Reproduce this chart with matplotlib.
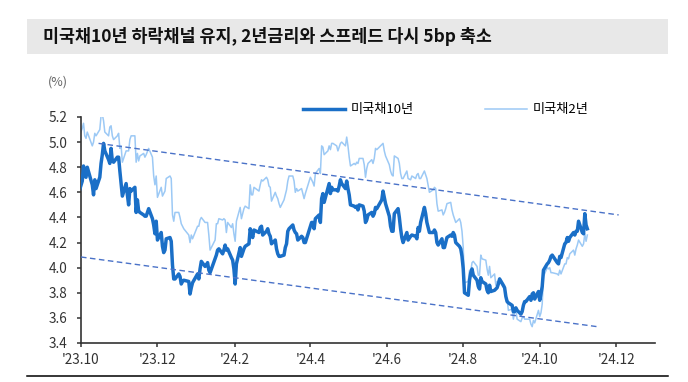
import matplotlib
matplotlib.use("Agg")
import matplotlib.pyplot as plt
import numpy as np
import pandas as pd
from matplotlib.patches import Rectangle
from matplotlib.lines import Line2D

plt.rcParams['font.family'] = ['Noto Sans CJK KR', 'DejaVu Sans']

# ---------- data (business days from 2023-09-29, one row per week Mon..Fri, nan = holiday) ----------
nan = np.nan
ust10y = [
    4.59,
    4.69, 4.81, 4.73, 4.72, 4.80,
    nan, 4.66, 4.58, 4.70, 4.63,
    4.72, 4.83, 4.90, 4.99, 4.93,
    4.86, 4.83, 4.95, 4.85, 4.84,
    4.88, 4.88, 4.77, 4.67, 4.57,
    4.67, 4.58, 4.50, 4.63, 4.61,
    4.64, 4.44, 4.54, 4.45, 4.44,
    4.42, 4.41, 4.41, nan, 4.47,
    4.39, 4.34, 4.27, 4.37, 4.22,
    4.28, 4.17, 4.12, 4.14, 4.23,
    4.24, 4.21, 4.02, 3.91, 3.91,
    3.95, 3.93, 3.87, 3.89, 3.90,
    nan, 3.89, 3.79, 3.84, 3.88,
    nan, 3.95, 3.91, 3.99, 4.05,
    4.01, 4.02, 4.04, 3.98, 3.96,
    nan, 4.07, 4.10, 4.14, 4.15,
    4.11, 4.14, 4.18, 4.14, 4.15,
    4.08, 4.06, 3.99, 3.87, 4.03,
    4.16, 4.09, 4.12, 4.15, 4.17,
    4.19, 4.31, 4.27, 4.24, 4.30,
    nan, 4.28, 4.32, 4.33, 4.26,
    4.29, 4.31, 4.27, 4.25, 4.19,
    4.22, 4.15, 4.11, 4.09, 4.09,
    4.10, 4.16, 4.19, 4.29, 4.31,
    4.34, 4.30, 4.28, 4.27, 4.22,
    4.25, 4.24, 4.20, 4.20, nan,
    4.33, 4.36, 4.36, 4.31, 4.39,
    4.42, 4.36, 4.55, 4.59, 4.52,
    4.63, 4.67, 4.59, 4.64, 4.62,
    4.62, 4.61, 4.65, 4.70, 4.67,
    4.63, 4.69, 4.63, 4.58, 4.50,
    4.49, 4.48, 4.49, 4.46, 4.50,
    4.49, 4.45, 4.36, 4.38, 4.42,
    4.44, 4.41, 4.43, 4.48, 4.47,
    nan, 4.54, 4.61, 4.56, 4.51,
    4.41, 4.33, 4.29, 4.29, 4.43,
    4.47, 4.40, 4.31, 4.24, 4.20,
    4.28, 4.22, nan, 4.25, 4.26,
    4.25, 4.23, 4.32, 4.29, 4.36,
    4.48, 4.43, 4.36, nan, 4.28,
    4.28, 4.30, 4.28, 4.20, 4.18,
    4.23, 4.16, 4.16, 4.20, 4.24,
    4.26, 4.25, 4.28, 4.26, 4.20,
    4.17, 4.15, 4.09, 3.99, 3.80,
    3.78, 3.90, 3.96, 3.99, 3.94,
    3.90, 3.85, 3.83, 3.92, 3.89,
    3.87, 3.82, 3.80, 3.86, 3.81,
    3.82, 3.83, 3.84, 3.87, 3.91,
    nan, 3.84, 3.77, 3.73, 3.72,
    3.70, 3.65, 3.65, 3.68, 3.66,
    3.63, 3.65, 3.70, 3.73, 3.73,
    3.77, 3.74, 3.79, 3.80, 3.75,
    3.81, 3.74, 3.79, 3.85, 3.98,
    4.03, 4.04, 4.06, 4.09, 4.10,
    nan, 4.04, 4.03, 4.09, 4.08,
    4.19, 4.20, 4.24, 4.21, 4.24,
    4.28, 4.26, 4.29, 4.29, 4.37,
    4.28, 4.27, 4.43, 4.34, 4.31,
]
ust2y = [
    5.03,
    5.11, 5.15, 5.05, 5.03, 5.08,
    nan, 4.97, 5.00, 5.07, 5.05,
    5.10, 5.21, 5.22, 5.17, 5.08,
    5.05, 5.12, 5.13, 5.05, 5.02,
    5.05, 5.07, 4.95, 4.97, 4.84,
    4.93, 4.93, 4.93, 5.02, 5.05,
    5.05, 4.84, 4.91, 4.85, 4.89,
    4.91, 4.88, 4.90, nan, 4.95,
    4.88, 4.73, 4.66, 4.73, 4.56,
    4.64, 4.57, 4.59, 4.61, 4.71,
    4.73, 4.71, 4.42, 4.37, 4.44,
    4.44, 4.40, 4.35, 4.33, 4.31,
    nan, 4.26, 4.20, 4.26, 4.23,
    nan, 4.33, 4.33, 4.38, 4.40,
    4.36, 4.36, 4.36, 4.26, 4.14,
    nan, 4.22, 4.35, 4.35, 4.39,
    4.38, 4.39, 4.38, 4.28, 4.36,
    4.32, 4.35, 4.27, 4.21, 4.37,
    4.48, 4.39, 4.43, 4.47, 4.49,
    4.47, 4.66, 4.58, 4.58, 4.64,
    nan, 4.61, 4.66, 4.70, 4.69,
    4.72, 4.70, 4.65, 4.64, 4.53,
    4.60, 4.57, 4.55, 4.51, 4.48,
    4.54, 4.58, 4.62, 4.69, 4.73,
    4.73, 4.69, 4.60, 4.63, 4.61,
    4.63, 4.59, 4.55, 4.59, nan,
    4.72, 4.70, 4.68, 4.65, 4.75,
    4.79, 4.75, 4.97, 4.96, 4.90,
    4.93, 4.97, 4.94, 4.99, 4.99,
    4.97, 4.93, 4.96, 4.99, 5.00,
    4.97, 5.04, 4.97, 4.88, 4.81,
    4.83, 4.82, 4.84, 4.83, 4.87,
    4.87, 4.82, 4.72, 4.79, 4.83,
    4.86, 4.83, 4.87, 4.95, 4.94,
    nan, 4.98, 4.99, 4.93, 4.89,
    4.82, 4.77, 4.74, 4.73, 4.89,
    4.87, 4.83, 4.75, 4.71, 4.71,
    4.77, 4.71, nan, 4.70, 4.73,
    4.71, 4.74, 4.75, 4.71, 4.71,
    4.77, 4.74, 4.71, nan, 4.60,
    4.62, 4.64, 4.63, 4.51, 4.45,
    4.46, 4.42, 4.44, 4.47, 4.51,
    4.52, 4.46, 4.42, 4.39, 4.36,
    4.39, 4.36, 4.29, 4.16, 3.88,
    3.89, 3.98, 3.97, 4.04, 4.05,
    4.01, 3.94, 3.94, 4.10, 4.07,
    4.06, 3.99, 3.94, 4.01, 3.92,
    3.95, 3.86, 3.89, 3.89, 3.92,
    nan, 3.86, 3.76, 3.75, 3.66,
    3.67, 3.59, 3.65, 3.66, 3.59,
    3.57, 3.60, 3.61, 3.59, 3.59,
    3.59, 3.55, 3.53, 3.58, 3.56,
    3.66, 3.61, 3.64, 3.71, 3.93,
    4.00, 3.99, 4.00, 3.96, 3.96,
    nan, 3.95, 3.94, 3.98, 3.95,
    4.03, 4.03, 4.08, 4.07, 4.11,
    4.14, 4.10, 4.15, 4.18, 4.22,
    4.17, 4.19, 4.27, 4.21, 4.26,
]

# 하락채널 (upper / lower channel line end points)
upper_dates = ['2023-10-15', '2024-12-03']
upper_vals = [4.99, 4.42]
lower_dates = ['2023-10-01', '2024-11-16']
lower_vals = [4.085, 3.53]

xtick_dates = pd.date_range('2023-10-01', '2024-12-01', freq='2MS')
xtick_labels = ["'23.10", "'23.12", "'24.2", "'24.4", "'24.6", "'24.8", "'24.10", "'24.12"]
yticks = np.arange(3.4, 5.21, 0.2)

title = '미국채10년 하락채널 유지, 2년금리와 스프레드 다시 5bp 축소'

# ---------- plot ----------
s10 = pd.Series(ust10y, index=pd.bdate_range('2023-09-29', periods=len(ust10y))).dropna()
s2 = pd.Series(ust2y, index=pd.bdate_range('2023-09-29', periods=len(ust2y))).dropna()

fig = plt.figure(figsize=(6.88, 3.82), dpi=100)
W, H = 688, 382

# title box
fig.patches.append(Rectangle((27 / W, 1 - 54 / H), (668 - 27) / W, 35 / H,
                             transform=fig.transFigure, facecolor='#e8e8e8', edgecolor='none', zorder=0))
fig.text(43 / W, 1 - 37 / H, title, fontsize=12.5, fontweight='bold', va='center', ha='left', color='#111111')
# bottom rule
fig.add_artist(Line2D([27 / W, 668 / W], [1 - 376 / H, 1 - 376 / H], color='black', lw=1.1,
                      transform=fig.transFigure))

ax = fig.add_axes([81 / W, 1 - 343 / H, (655 - 81) / W, (343 - 117) / H])
ax.plot(s2.index, s2.values, color='#9cc9f5', lw=1.1, zorder=2)
ax.plot(s10.index, s10.values, color='#1a6fc7', lw=2.5, zorder=3)
ax.plot(pd.to_datetime(upper_dates), upper_vals, color='#4a72c8', lw=1.0, ls=(0, (4, 2.5)), zorder=4)
ax.plot(pd.to_datetime(lower_dates), lower_vals, color='#4a72c8', lw=1.0, ls=(0, (4, 2.5)), zorder=4)

ax.set_xlim(pd.Timestamp('2023-10-01'), pd.Timestamp('2025-01-01'))
ax.set_ylim(3.4, 5.2)
ax.set_yticks(yticks)
ax.set_yticklabels([f'{v:.1f}' for v in yticks])
ax.set_xticks(xtick_dates)
ax.set_xticklabels(xtick_labels)

for sp in ['top', 'right']:
    ax.spines[sp].set_visible(False)
for sp in ['left', 'bottom']:
    ax.spines[sp].set_color('#333333')
    ax.spines[sp].set_linewidth(1.2)
ax.tick_params(axis='both', direction='out', length=3, width=1.1, color='#333333',
               labelsize=9.8, labelcolor='#333333')
ax.tick_params(axis='y', pad=7)
ax.tick_params(axis='x', pad=4)

fig.text(58 / W, 1 - 82 / H, '(%)', fontsize=9, color='#666666', ha='center', va='center')

handles = [Line2D([], [], color='#1a6fc7', lw=2.5), Line2D([], [], color='#9cc9f5', lw=1.1)]
fig.legend(handles, ['미국채10년', '미국채2년'], loc='center left', bbox_to_anchor=(303 / W, 1 - 110 / H),
           ncol=2, frameon=False, fontsize=9.5, handlelength=3.2, handletextpad=0.4,
           columnspacing=5.4, borderpad=0, borderaxespad=0)

fig.savefig('out.png', dpi=100)
